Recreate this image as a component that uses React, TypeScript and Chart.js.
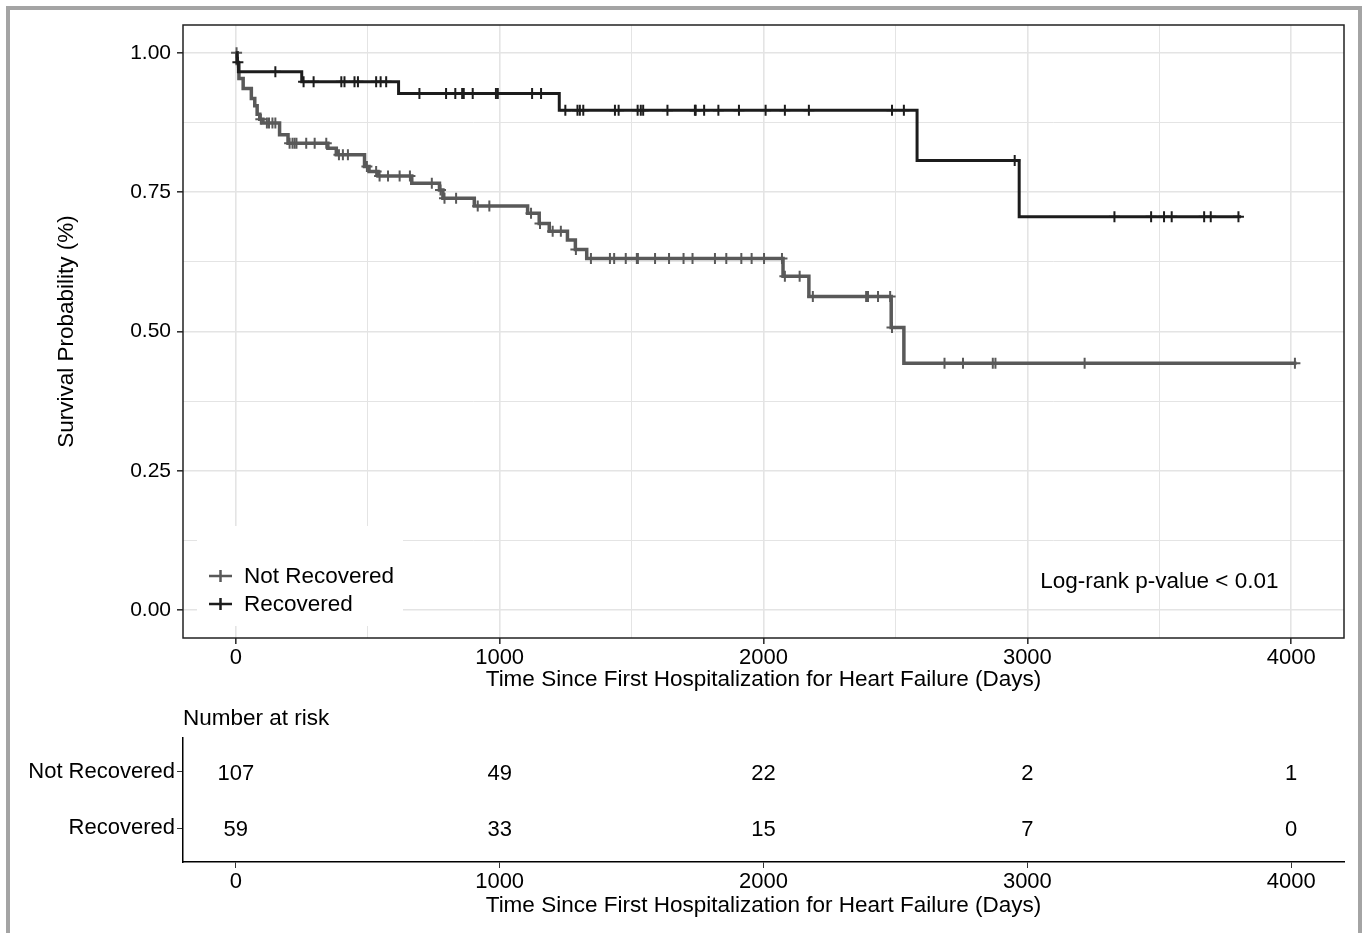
import React, { useEffect, useRef } from "react";
import { Chart, registerables } from "chart.js";

Chart.register(...registerables);

// ---------- DATA ----------
const groups = ["Not Recovered", "Recovered"];

// Kaplan-Meier steps (time in days, survival after the drop)
const nrTimes = [0, 5, 12, 28, 59, 72, 81, 91, 103, 166, 198, 349, 381, 488, 505, 539, 667, 772, 785, 904, 1106, 1150, 1188, 1257, 1287, 1330, 2074, 2172, 2484, 2532];
const nrSurv = [1.0, 0.981, 0.954, 0.936, 0.918, 0.905, 0.89, 0.881, 0.874, 0.853, 0.838, 0.829, 0.817, 0.796, 0.787, 0.779, 0.766, 0.754, 0.739, 0.725, 0.712, 0.694, 0.68, 0.664, 0.647, 0.631, 0.599, 0.563, 0.507, 0.443];
const nrEnd = 4020;
const nrCensor = [3, 95, 118, 126, 139, 150, 204, 215, 223, 230, 267, 299, 343, 391, 406, 425, 497, 532, 545, 577, 621, 660, 743, 776, 791, 835, 917, 961, 1119, 1153, 1201, 1232, 1289, 1346, 1418, 1434, 1478, 1520, 1524, 1589, 1642, 1697, 1731, 1816, 1859, 1916, 1955, 2002, 2070, 2081, 2137, 2187, 2389, 2396, 2434, 2480, 2487, 2686, 2756, 2869, 2879, 3217, 4014];

const recTimes = [0, 5, 10, 250, 617, 1226, 2582, 2969];
const recSurv = [1.0, 0.983, 0.966, 0.948, 0.927, 0.897, 0.807, 0.706];
const recEnd = 3810;
const recCensor = [8, 150, 257, 295, 400, 412, 450, 463, 532, 549, 570, 696, 797, 832, 858, 864, 898, 986, 993, 1123, 1157, 1249, 1295, 1304, 1317, 1437, 1451, 1523, 1535, 1544, 1636, 1740, 1743, 1775, 1829, 1907, 2008, 2081, 2172, 2487, 2532, 2952, 3330, 3469, 3518, 3547, 3670, 3695, 3800];

// axes
const xMajorTicks = [0, 1000, 2000, 3000, 4000];
const xMinorTicks = [500, 1500, 2500, 3500];
const yMajorTicks = [0, 0.25, 0.5, 0.75, 1.0];
const yMinorTicks = [0.125, 0.375, 0.625, 0.875];

// risk table
const riskTimes = [0, 1000, 2000, 3000, 4000];
const nrRisk = [107, 49, 22, 2, 1];
const recRisk = [59, 33, 15, 7, 0];

const pText = "Log-rank p-value < 0.01";
const pCoord = { x: 3500, y: 0.05 };
const xTitle = "Time Since First Hospitalization for Heart Failure (Days)";
const yTitle = "Survival Probability (%)";
const riskTitle = "Number at risk";

// ---------- STYLE ----------
const FONT = "'Liberation Sans', Arial, Helvetica, sans-serif";
const FS = 22.5;   // titles, legend, annotation
const FT = 22;     // x tick labels, risk numbers/rows
const FY = 21;     // y tick labels
const GRAY = "#595959";
const BLACK = "#1c1c1c";
const GRID = "#e4e4e4";

function survAt(times: number[], surv: number[], t: number) {
  let s = surv[0];
  for (let i = 0; i < times.length; i++) if (times[i] <= t) s = surv[i];
  return s;
}

function stepData(times: number[], surv: number[], end: number) {
  const pts = times.map((t, i) => ({ x: t, y: surv[i] }));
  pts.push({ x: end, y: surv[surv.length - 1] });
  return pts;
}

const colors = [GRAY, BLACK];

export default function App() {
  const mainRef = useRef<HTMLCanvasElement>(null);
  const riskRef = useRef<HTMLCanvasElement>(null);

  useEffect(() => {
    document.body.style.margin = "0";
    const allX = [...xMajorTicks, ...xMinorTicks].sort((a, b) => a - b);
    const allY = [...yMajorTicks, ...yMinorTicks].sort((a, b) => a - b);
    const isMajorX = (v: number) => xMajorTicks.includes(v);
    const isMajorY = (v: number) => yMajorTicks.includes(v);

    const kmDecor = {
      id: "kmDecor",
      beforeDatasetsDraw(chart: any) {
        const { ctx, chartArea: a } = chart;
        ctx.save();
        const bx = a.left + 14, by = a.bottom - 112, bw = 206, bh = 100;
        ctx.fillStyle = "#fff";
        ctx.fillRect(bx, by, bw, bh);
        ctx.font = `${FS}px ${FONT}`;
        ctx.textBaseline = "middle";
        ctx.textAlign = "left";
        groups.forEach((g, i) => {
          const y = a.bottom - 62 + i * 28;
          const x0 = a.left + 26, x1 = a.left + 49;
          ctx.strokeStyle = colors[i];
          ctx.lineWidth = 2.5;
          ctx.beginPath();
          ctx.moveTo(x0, y); ctx.lineTo(x1, y);
          ctx.moveTo((x0 + x1) / 2, y - 6); ctx.lineTo((x0 + x1) / 2, y + 6);
          ctx.stroke();
          ctx.fillStyle = "#000";
          ctx.fillText(g, a.left + 61, y + 1);
        });
        ctx.restore();
      },
      afterDraw(chart: any) {
        const { ctx, chartArea: a, scales } = chart;
        ctx.save();
        ctx.font = `${FS}px ${FONT}`;
        ctx.fillStyle = "#000";
        ctx.textAlign = "center";
        ctx.textBaseline = "middle";
        ctx.fillText(pText, scales.x.getPixelForValue(pCoord.x), scales.y.getPixelForValue(pCoord.y));
        ctx.strokeStyle = "#222";
        ctx.lineWidth = 1.5;
        ctx.strokeRect(a.left, a.top, a.right - a.left, a.bottom - a.top);
        ctx.restore();
      },
    };

    const main = new Chart(mainRef.current!, {
      type: "line",
      data: {
        datasets: [
          { type: "line", label: "Recovered", data: stepData(recTimes, recSurv, recEnd), stepped: "before", borderColor: BLACK, borderWidth: 3, pointRadius: 0, fill: false, order: 1 } as any,
          { type: "scatter", label: "Recovered censor", data: recCensor.map((t) => ({ x: t, y: survAt(recTimes, recSurv, t) })), pointStyle: "cross", pointRadius: 5.5, borderColor: BLACK, borderWidth: 2, order: 2 } as any,
          { type: "line", label: "Not Recovered", data: stepData(nrTimes, nrSurv, nrEnd), stepped: "before", borderColor: GRAY, borderWidth: 3.5, pointRadius: 0, fill: false, order: 3 } as any,
          { type: "scatter", label: "Not Recovered censor", data: nrCensor.map((t) => ({ x: t, y: survAt(nrTimes, nrSurv, t) })), pointStyle: "cross", pointRadius: 5.5, borderColor: GRAY, borderWidth: 2, order: 4 } as any,
        ],
      },
      options: {
        animation: false,
        responsive: false,
        devicePixelRatio: 1,
        layout: { padding: { left: 50, top: 25, right: 20, bottom: 0 } },
        plugins: { legend: { display: false }, tooltip: { enabled: false } },
        scales: {
          x: {
            type: "linear",
            min: -200,
            max: 4200,
            afterBuildTicks: (s: any) => { s.ticks = allX.map((v) => ({ value: v })); },
            afterFit: (s: any) => { s.height = 62; },
            ticks: { autoSkip: false, maxRotation: 0, padding: 1, color: "#000", font: { family: FONT, size: FT }, callback: (v: any) => (isMajorX(Number(v)) ? String(v) : "") },
            grid: {
              color: GRID,
              lineWidth: (c: any) => (isMajorX(c.tick?.value) ? 1.6 : 1),
              tickColor: (c: any) => (isMajorX(c.tick?.value) ? "#333" : "rgba(0,0,0,0)"),
              tickLength: 6,
            },
            border: { display: false },
            title: { display: true, text: xTitle, color: "#000", font: { family: FONT, size: FS }, padding: { top: 0, bottom: 7 } },
          },
          y: {
            type: "linear",
            min: -0.05,
            max: 1.05,
            afterBuildTicks: (s: any) => { s.ticks = allY.map((v) => ({ value: v })); },
            afterFit: (s: any) => { s.width = 133; },
            ticks: { autoSkip: false, padding: 6, color: "#000", font: { family: FONT, size: FY }, callback: (v: any) => (isMajorY(Number(v)) ? Number(v).toFixed(2) : "") },
            grid: {
              color: GRID,
              lineWidth: (c: any) => (isMajorY(c.tick?.value) ? 1.6 : 1),
              tickColor: (c: any) => (isMajorY(c.tick?.value) ? "#333" : "rgba(0,0,0,0)"),
              tickLength: 6,
            },
            border: { display: false },
            title: { display: true, text: yTitle, color: "#000", font: { family: FONT, size: FS }, padding: { top: 3, bottom: 0 } },
          },
        },
      },
      plugins: [kmDecor],
    } as any);

    const riskCounts = [nrRisk, recRisk];
    const rowValue = (i: number) => groups.length - i;

    const riskDecor = {
      id: "riskDecor",
      afterDatasetsDraw(chart: any) {
        const { ctx, chartArea: a } = chart;
        ctx.save();
        ctx.font = `${FT}px ${FONT}`;
        ctx.fillStyle = "#000";
        ctx.textAlign = "center";
        ctx.textBaseline = "middle";
        chart.data.datasets.forEach((_: any, di: number) => {
          const meta = chart.getDatasetMeta(di);
          meta.data.forEach((el: any, j: number) => {
            ctx.fillText(String(riskCounts[di][j]), el.x, el.y + 2);
          });
        });
        ctx.font = `${FS}px ${FONT}`;
        ctx.textAlign = "left";
        ctx.fillText(riskTitle, a.left, 19);
        ctx.restore();
      },
    };

    const risk = new Chart(riskRef.current!, {
      type: "scatter",
      data: {
        datasets: groups.map((g, i) => ({
          label: g,
          data: riskTimes.map((t) => ({ x: t, y: rowValue(i) })),
          pointRadius: 0,
        })),
      },
      options: {
        animation: false,
        responsive: false,
        devicePixelRatio: 1,
        layout: { padding: { left: 0, top: 38, right: 20, bottom: 0 } },
        plugins: { legend: { display: false }, tooltip: { enabled: false } },
        scales: {
          x: {
            type: "linear",
            min: -200,
            max: 4200,
            afterBuildTicks: (s: any) => { s.ticks = xMajorTicks.map((v) => ({ value: v })); },
            afterFit: (s: any) => { s.height = 71; },
            ticks: { autoSkip: false, maxRotation: 0, padding: 1, color: "#000", font: { family: FONT, size: FT }, callback: (v: any) => String(v) },
            grid: { drawOnChartArea: false, tickColor: "#333", tickLength: 6 },
            border: { display: true, color: "#000", width: 1.5 },
            title: { display: true, text: xTitle, color: "#000", font: { family: FONT, size: FS }, padding: { top: 0, bottom: 14 } },
          },
          y: {
            type: "linear",
            min: 0.4,
            max: 2.6,
            afterBuildTicks: (s: any) => { s.ticks = groups.map((_, i) => ({ value: rowValue(i) })); },
            afterFit: (s: any) => { s.width = 183; },
            ticks: { autoSkip: false, padding: 2, color: "#000", font: { family: FONT, size: FT }, callback: (v: any) => groups[groups.length - Number(v)] },
            grid: { drawOnChartArea: false, tickColor: "#333", tickLength: 6 },
            border: { display: true, color: "#000", width: 1.5 },
          },
        },
      },
      plugins: [riskDecor],
    } as any);

    return () => {
      main.destroy();
      risk.destroy();
    };
  }, []);

  return (
    <div style={{ position: "relative", width: 1364, height: 933, overflow: "hidden", background: "#fff" }}>
      <canvas ref={mainRef} width={1364} height={700} style={{ position: "absolute", left: 0, top: 0, width: 1364, height: 700 }} />
      <canvas ref={riskRef} width={1364} height={233} style={{ position: "absolute", left: 0, top: 700, width: 1364, height: 233 }} />
      <div style={{ position: "absolute", left: 6, top: 6, width: 1356, height: 1000, boxSizing: "border-box", border: "4px solid #a4a4a4", borderBottom: "none", pointerEvents: "none" }} />
    </div>
  );
}
